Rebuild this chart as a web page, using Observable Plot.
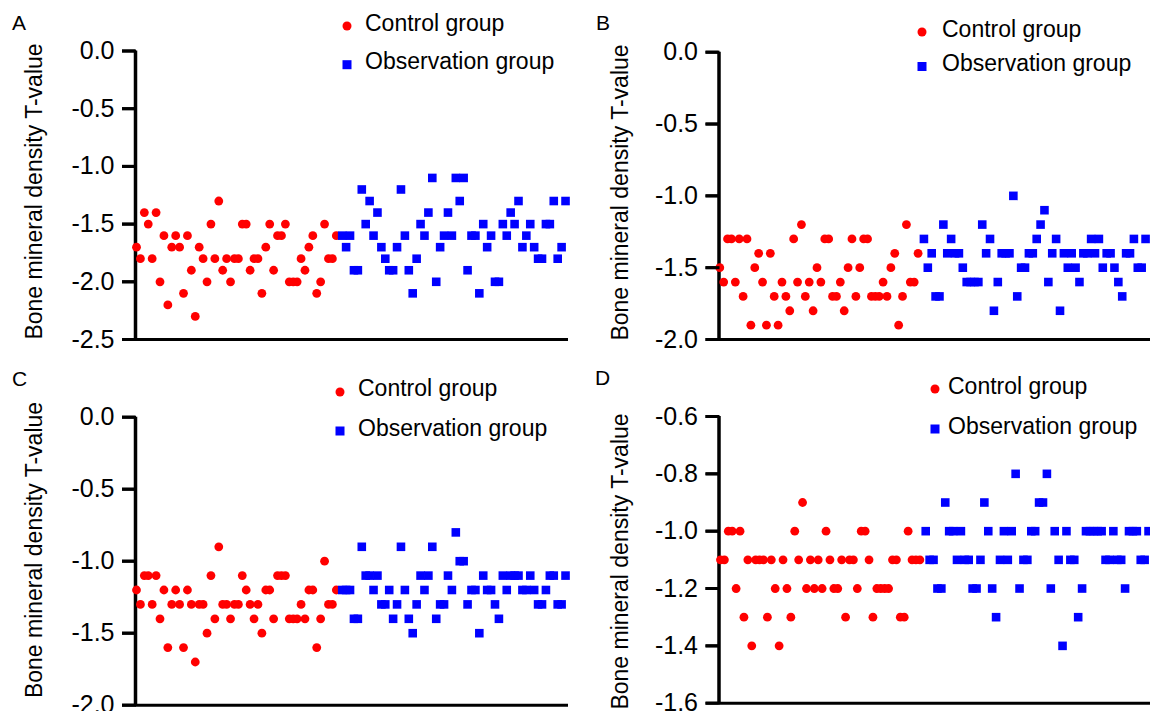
<!DOCTYPE html>
<html><head><meta charset="utf-8">
<script src="https://cdn.jsdelivr.net/npm/d3@7"></script>
<script src="https://cdn.jsdelivr.net/npm/@observablehq/plot@0.6"></script>
<style>
html,body{margin:0;padding:0;background:#fff}
#root{position:relative;width:1150px;height:711px;overflow:hidden;background:#fff;font-family:"Liberation Sans",Arial,sans-serif}
.panel{position:absolute}
.panel svg{display:block;max-width:none}
#overlay{position:absolute;left:0;top:0;pointer-events:none}
</style></head><body><div id="root"></div>
<script>
const groups = ["Control group", "Observation group"];
const yLabel = "Bone mineral density T-value";

const aControl = [-1.7,-1.8,-1.4,-1.5,-1.8,-1.4,-2.0,-1.6,-2.2,-1.7,
 -1.6,-1.7,-2.1,-1.6,-1.9,-2.3,-1.7,-1.8,-2.0,-1.5,
 -1.8,-1.3,-1.9,-1.8,-2.0,-1.8,-1.8,-1.5,-1.5,-1.9,
 -1.8,-1.8,-2.1,-1.7,-1.5,-1.9,-1.6,-1.6,-1.5,-2.0,
 -2.0,-2.0,-1.8,-1.9,-1.7,-1.6,-2.1,-2.0,-1.5,-1.8,
 -1.8,-1.6];
const aObservation = [-1.6,-1.7,-1.6,-1.9,-1.9,-1.2,-1.5,-1.3,-1.6,-1.4,
 -1.7,-1.8,-1.9,-1.9,-1.7,-1.2,-1.6,-1.9,-2.1,-1.8,
 -1.5,-1.6,-1.4,-1.1,-2.0,-1.7,-1.6,-1.4,-1.6,-1.1,
 -1.3,-1.1,-1.9,-1.6,-1.6,-2.1,-1.5,-1.7,-1.6,-2.0,
 -2.0,-1.5,-1.6,-1.4,-1.5,-1.3,-1.7,-1.6,-1.5,-1.7,
 -1.8,-1.8,-1.5,-1.5,-1.3,-1.8,-1.7,-1.3];

const bControl = [-1.5,-1.6,-1.3,-1.3,-1.6,-1.3,-1.7,-1.3,-1.9,-1.5,
 -1.4,-1.6,-1.9,-1.4,-1.7,-1.9,-1.6,-1.7,-1.8,-1.3,
 -1.6,-1.2,-1.7,-1.6,-1.8,-1.5,-1.6,-1.3,-1.3,-1.7,
 -1.7,-1.6,-1.8,-1.5,-1.3,-1.7,-1.5,-1.3,-1.3,-1.7,
 -1.7,-1.7,-1.6,-1.7,-1.5,-1.4,-1.9,-1.7,-1.2,-1.6,
 -1.6,-1.4];
const bObservation = [-1.3,-1.5,-1.4,-1.7,-1.7,-1.2,-1.4,-1.3,-1.4,-1.4,
 -1.5,-1.6,-1.6,-1.6,-1.6,-1.2,-1.4,-1.3,-1.8,-1.6,
 -1.4,-1.4,-1.4,-1.0,-1.7,-1.5,-1.5,-1.4,-1.4,-1.3,
 -1.2,-1.1,-1.6,-1.4,-1.3,-1.8,-1.4,-1.5,-1.4,-1.5,
 -1.6,-1.4,-1.4,-1.3,-1.4,-1.3,-1.5,-1.4,-1.4,-1.5,
 -1.6,-1.7,-1.4,-1.4,-1.3,-1.5,-1.5,-1.3];

const cControl = [-1.2,-1.3,-1.1,-1.1,-1.3,-1.1,-1.4,-1.2,-1.6,-1.3,
 -1.2,-1.3,-1.6,-1.2,-1.3,-1.7,-1.3,-1.3,-1.5,-1.1,
 -1.4,-0.9,-1.3,-1.3,-1.4,-1.3,-1.3,-1.1,-1.2,-1.3,
 -1.4,-1.3,-1.5,-1.2,-1.2,-1.4,-1.1,-1.1,-1.1,-1.4,
 -1.4,-1.4,-1.3,-1.4,-1.2,-1.2,-1.6,-1.4,-1.0,-1.3,
 -1.3,-1.2];
const cObservation = [-1.2,-1.2,-1.2,-1.4,-1.4,-0.9,-1.1,-1.1,-1.2,-1.1,
 -1.3,-1.3,-1.2,-1.4,-1.3,-0.9,-1.2,-1.4,-1.5,-1.3,
 -1.1,-1.2,-1.1,-0.9,-1.4,-1.3,-1.3,-1.1,-1.2,-0.8,
 -1.0,-1.0,-1.3,-1.2,-1.2,-1.5,-1.1,-1.2,-1.2,-1.3,
 -1.4,-1.1,-1.2,-1.1,-1.1,-1.1,-1.2,-1.2,-1.1,-1.2,
 -1.3,-1.3,-1.2,-1.1,-1.1,-1.3,-1.3,-1.1];

const dControl = [-1.1,-1.1,-1.0,-1.0,-1.2,-1.0,-1.3,-1.1,-1.4,-1.1,
 -1.1,-1.1,-1.3,-1.1,-1.2,-1.4,-1.1,-1.2,-1.3,-1.0,
 -1.1,-0.9,-1.2,-1.1,-1.2,-1.1,-1.2,-1.0,-1.1,-1.2,
 -1.2,-1.1,-1.3,-1.1,-1.1,-1.2,-1.0,-1.0,-1.1,-1.3,
 -1.2,-1.2,-1.2,-1.2,-1.1,-1.1,-1.3,-1.3,-1.0,-1.1,
 -1.1,-1.1];
const dObservation = [-1.0,-1.1,-1.1,-1.2,-1.2,-0.9,-1.0,-1.0,-1.1,-1.0,
 -1.1,-1.1,-1.2,-1.2,-1.1,-0.9,-1.0,-1.2,-1.3,-1.1,
 -1.0,-1.1,-1.0,-0.8,-1.2,-1.1,-1.1,-1.0,-1.0,-0.9,
 -0.9,-0.8,-1.2,-1.0,-1.1,-1.4,-1.0,-1.1,-1.1,-1.3,
 -1.2,-1.0,-1.0,-1.0,-1.0,-1.0,-1.1,-1.1,-1.0,-1.1,
 -1.1,-1.2,-1.0,-1.0,-1.0,-1.1,-1.1,-1.0];

const ticksA = [0, -0.5, -1.0, -1.5, -2.0, -2.5];
const ticksBC = [0, -0.5, -1.0, -1.5, -2.0];
const ticksD = [-0.6, -0.8, -1.0, -1.2, -1.4, -1.6];

const panels = [
  {letter:"A", control:aControl, observation:aObservation, ticks:ticksA, yDomain:[-2.5,0], xDomain:[-0.255,110.26],
   left:0, top:0, width:575, height:355, m:{top:50.5,right:7,bottom:16,left:135},
   letterPos:[12,30], labelPos:[42,191.5], legend:{dot:[347,26], t1:[365,30.7], sq:[347,64.7], t2:[365,69]}},
  {letter:"B", control:bControl, observation:bObservation, ticks:ticksBC, yDomain:[-2,0], xDomain:[-0.2,110.77],
   left:575, top:0, width:575, height:355, m:{top:51.7,right:0,bottom:16,left:143.5},
   letterPos:[596,30], labelPos:[628,192.5], legend:{dot:[922,32], t1:[942,36.5], sq:[922,66.5], t2:[942,71]}},
  {letter:"C", control:cControl, observation:cObservation, ticks:ticksBC, yDomain:[-2,0], xDomain:[-0.255,110.26],
   left:0, top:355, width:575, height:356, m:{top:61.7,right:7,bottom:6.3,left:135},
   letterPos:[12,386], labelPos:[42,550], legend:{dot:[340,392], t1:[358,396], sq:[340,431], t2:[358,436]}},
  {letter:"D", control:dControl, observation:dObservation, ticks:ticksD, yDomain:[-1.6,-0.6], xDomain:[-0.38,110.0],
   left:575, top:355, width:575, height:356, m:{top:61,right:0,bottom:8.3,left:143.5},
   letterPos:[595,385], labelPos:[628,561.5], legend:{dot:[935,389], t1:[948,394], sq:[935,429], t2:[948,434]}}
];

const root = document.getElementById("root");
const FONT = '"Liberation Sans", Arial, sans-serif';
const TICK_PX = 13;
const charts = [];

for (const p of panels) {
  const ctrl = p.control.map((v, i) => ({x: i, y: v, group: groups[0]}));
  const obs = p.observation.map((v, j) => ({x: p.control.length + j + 0.5, y: v, group: groups[1]}));
  const chart = Plot.plot({
    width: p.width, height: p.height,
    marginTop: p.m.top, marginRight: p.m.right, marginBottom: p.m.bottom, marginLeft: p.m.left,
    x: {domain: p.xDomain, axis: null},
    y: {domain: p.yDomain},
    style: {fontFamily: FONT, fontSize: "25px", color: "#000", background: "transparent", overflow: "visible"},
    marks: [
      Plot.axisY({ticks: p.ticks, tickFormat: d => d.toFixed(1), tickSize: TICK_PX, tickPadding: 8,
                  strokeWidth: 3, stroke: "#000", fontSize: 25, fill: "#000", label: null}),
      Plot.ruleX([p.xDomain[0]], {y1: p.yDomain[0], y2: p.yDomain[1], strokeWidth: 3.5, stroke: "#000"}),
      Plot.ruleY([p.yDomain[0]], {x1: p.xDomain[0], x2: p.xDomain[1], strokeWidth: 3, stroke: "#000"}),
      Plot.dot(ctrl, {x: "x", y: "y", r: 4.4, fill: "#ff0000", symbol: "circle"}),
      Plot.dot(obs, {x: "x", y: "y", r: 4.85, fill: "#0000ff", symbol: "square"})
    ]
  });
  const div = document.createElement("div");
  div.className = "panel";
  div.style.left = p.left + "px";
  div.style.top = p.top + "px";
  div.style.width = p.width + "px";
  div.style.height = p.height + "px";
  div.appendChild(chart);
  root.appendChild(div);
  charts.push(chart);
}

// overlay: tick marks (through each chart's own scales), panel letters, axis titles, legends
const ov = d3.select(root).append("svg").attr("id", "overlay")
  .attr("width", 1150).attr("height", 711)
  .style("font-family", FONT);
panels.forEach((p, k) => {
  const sx = charts[k].scale("x"), sy = charts[k].scale("y");
  const x0 = p.left + sx.apply(p.xDomain[0]);
  for (const t of p.ticks) {
    const y = p.top + sy.apply(t) + 0.5;
    ov.append("line").attr("x1", x0 - TICK_PX).attr("x2", x0 + 1)
      .attr("y1", y).attr("y2", y).attr("stroke", "#000").attr("stroke-width", 3);
  }
  ov.append("text").attr("x", p.letterPos[0]).attr("y", p.letterPos[1])
    .attr("font-size", 21).text(p.letter);
  ov.append("text").attr("transform", `translate(${p.labelPos[0]},${p.labelPos[1]}) rotate(-90)`)
    .attr("text-anchor", "middle").attr("font-size", 23).text(yLabel);
  const L = p.legend;
  ov.append("circle").attr("cx", L.dot[0]).attr("cy", L.dot[1]).attr("r", 4.5).attr("fill", "#ff0000");
  ov.append("text").attr("x", L.t1[0]).attr("y", L.t1[1]).attr("font-size", 23).text(groups[0]);
  ov.append("rect").attr("x", L.sq[0] - 4.5).attr("y", L.sq[1] - 4.5).attr("width", 9).attr("height", 9).attr("fill", "#0000ff");
  ov.append("text").attr("x", L.t2[0]).attr("y", L.t2[1]).attr("font-size", 23).text(groups[1]);
});
</script></body></html>
